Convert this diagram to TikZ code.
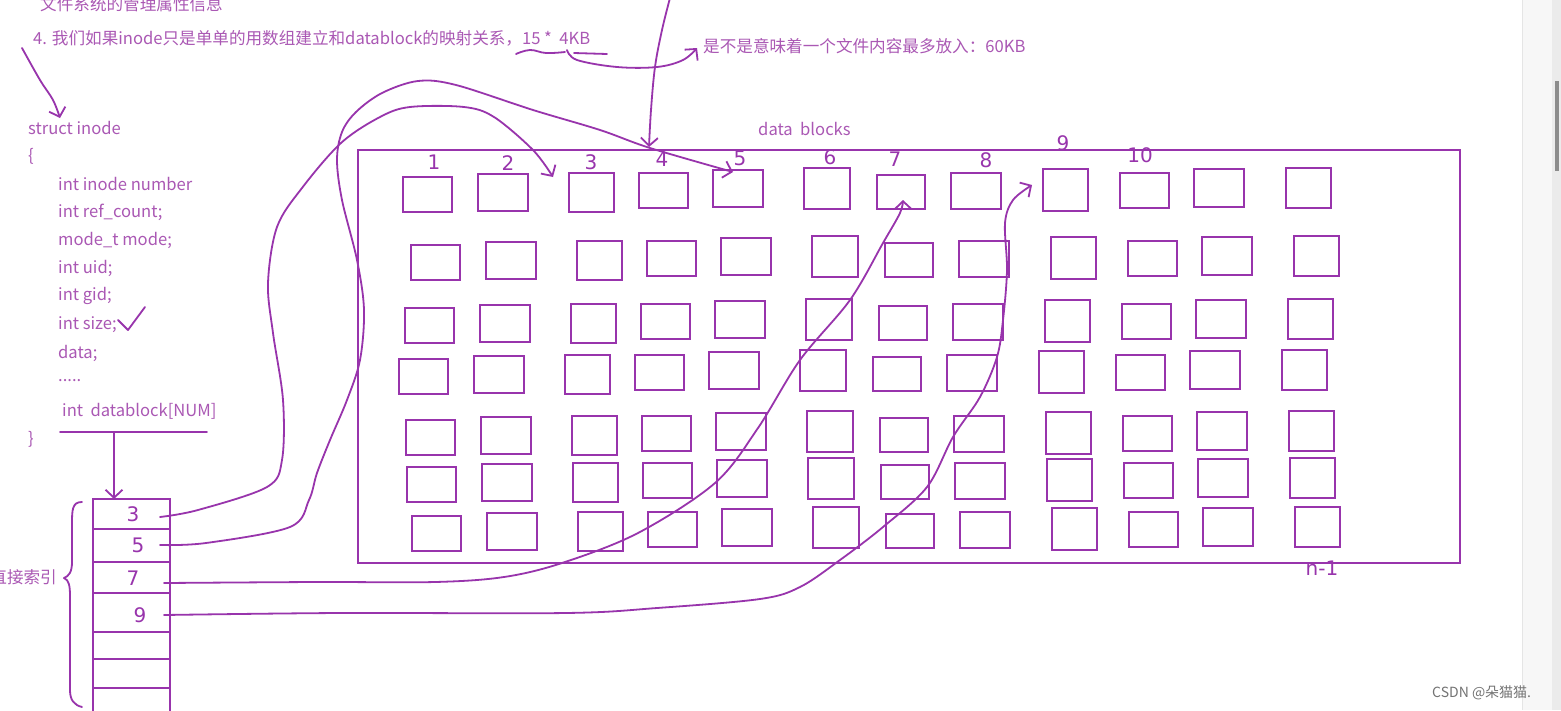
\documentclass[tikz,border=0pt]{standalone}
\usepackage{fontspec}
\setmainfont{Noto Sans CJK SC}
\newfontfamily\handfont{DejaVu Sans}
\usetikzlibrary{arrows.meta,calc}
\definecolor{txtc}{RGB}{170,88,180}
\definecolor{handc}{RGB}{152,52,172}
\tikzset{
  txt/.style={text=txtc, font=\fontsize{16.6}{18}\selectfont, inner sep=0pt, anchor=west},
  hand/.style={draw=handc, line width=1.8pt, line cap=round, line join=round},
  harrow/.style={hand, -{Straight Barb[length=8pt,width=17pt]}},
  blk/.style={draw=handc, line width=1.8pt, inner sep=0pt, outer sep=0pt},
  num/.style={text=handc, font=\handfont\fontsize{20}{22}\selectfont, inner sep=0pt},
  cell/.style={draw=handc, line width=1.8pt, minimum width=77pt, inner sep=0pt, outer sep=0pt},
}
\begin{document}
\begin{tikzpicture}[x=1pt,y=-1pt]
\useasboundingbox (0,0) rectangle (1561,710);
\clip (0,0) rectangle (1561,710);
\fill[white] (0,0) rectangle (1561,710);
% scrollbar
\fill[black!3] (1522,0) rectangle (1561,710);
\draw[black!10, line width=0.8pt] (1522,0) -- (1522,710);
\fill[black!8] (1552,0) rectangle (1561,710);
\fill[black!45] (1555,81) rectangle (1559,171);

% texts
\node[txt] (t0) at (40,4) {文件系统的管理属性信息};
\node[txt] (t1) at (33,38) {4. 我们如果inode只是单单的用数组建立和datablock的映射关系，15 *\ \ 4KB};
\node[txt] (t2) at (703,46) {是不是意味着一个文件内容最多放入：60KB};
\node[txt] (db) at (758,129) {data\ \ blocks};
\node[txt] (si) at (28,128) {struct inode};
\node[txt] (lb) at (28,156) {\{};
\node[txt] (f1) at (58,184) {int inode number};
\node[txt] (f2) at (58,212) {int ref\_count;};
\node[txt] (f3) at (58,240) {mode\_t mode;};
\node[txt] (f4) at (58,268) {int uid;};
\node[txt] (f5) at (58,296) {int gid;};
\node[txt] (f6) at (58,325) {int size;};
\node[txt] (f7) at (58,353) {data;};
\node[txt] (f8) at (58,381) {.....};
\node[txt] (f9) at (62,411) {int\ \ datablock[NUM]};
\node[txt] (rb) at (28,439) {\}};
\node[txt, anchor=east] (zj) at (57,577) {直接索引};
\node[anchor=west, inner sep=0pt, text=black!55, font=\fontsize{14}{16}\selectfont] (wm) at (1432,693) {CSDN @朵猫猫.};

% data blocks box
\node[blk, minimum width=1102, minimum height=413] (box) at (909,356.5) {};
\foreach \c/\x/\y/\w/\h in {1/403/177/49/35, 2/478/174/50/37, 3/569/173/45/39, 4/639/173/49/35,
  5/713/170/50/37, 6/804/168/46/41, 7/877/175/48/34, 8/951/173/50/36, 9/1043/169/45/42,
  10/1120/173/49/35, 11/1194/169/50/38, 12/1286/168/45/40}{
  \foreach \r/\dx/\dy in {1/0/0, 2/8/68, 3/2/131, 4/-4/182, 5/3/243, 6/4/290, 7/9/339}{
    \node[blk, minimum width=\w, minimum height=\h] (b\r-\c) at ({\x+\dx+\w/2},{\y+\dy+\h/2}) {};
  }
}
% handwritten block numbers
\node[num] (n1) at (434,162) {1};
\node[num] (n2) at (508,163) {2};
\node[num] (n3) at (591,162) {3};
\node[num] (n4) at (662,159) {4};
\node[num] (n5) at (740,158) {5};
\node[num] (n6) at (830,157) {6};
\node[num] (n7) at (895,159) {7};
\node[num] (n8) at (986,160) {8};
\node[num] (n9) at (1063,143) {9};
\node[num] (n10) at (1140,155) {10};
\node[num] (nn) at (1322,568) {n-1};

% inode array
\node[cell, minimum height=30] (c1) at (131.5,514) {};
\node[cell, minimum height=33] (c2) at (131.5,545.5) {};
\node[cell, minimum height=31] (c3) at (131.5,577.5) {};
\node[cell, minimum height=39] (c4) at (131.5,612.5) {};
\node[cell, minimum height=27] (c5) at (131.5,645.5) {};
\node[cell, minimum height=29] (c6) at (131.5,673.5) {};
\node[cell, minimum height=42] (c7) at (131.5,709) {};
\node[num] (v1) at (133,514) {3};
\node[num] (v2) at (138,545) {5};
\node[num] (v3) at (133,578) {7};
\node[num] (v4) at (140,615) {9};

% brace
\draw[hand] (82,502) .. controls (72,502) and (72,510) .. (72,525) -- (72,562)
  .. controls (72,572) and (69,576) .. (64,578) .. controls (69,580) and (70,586) .. (70,596)
  -- (70,690) .. controls (70,700) and (74,705) .. (82,707);

% underlines and ticks
\draw[hand] (60,432) -- (207,432);
\coordinate (u) at (114,432);
\draw[harrow] (u) -- (u |- c1.north);
\draw[hand] plot[smooth, tension=0.7] coordinates {(516,54) (530,50) (546,53) (565,52)};
\draw[hand] (574,53) -- (607,54);
\draw[hand] (118,320) -- (128,330) -- (145,307);

% left arrow to struct inode
\coordinate (la) at (22,48);
\coordinate (lt) at (60,118);
\draw[harrow] plot[smooth, tension=0.6] coordinates {(la) (40,80) (53,100) (lt)};

% 4KB -> explanation
\coordinate (k0) at (567,50);
\coordinate (k1) at (697,48);
\draw[harrow] plot[smooth, tension=0.6] coordinates {(k0) (577,60) (617,67) (657,67) (683,60) (k1)};

% vertical line from top to block 4
\coordinate (vt) at (670,-2);
\coordinate (v4e) at (649,147);
\draw[harrow] plot[smooth, tension=0.6] coordinates {(vt) (662,30) (655,67) (651,110) (v4e)};

% cell 1 -> block 3
\coordinate (s1) at (160,517);
\coordinate (e1) at (553,177);
\draw[harrow] plot[smooth, tension=0.55] coordinates {(s1) (198,510) (267,487) (282,460) (283,400)
  (273,333) (268,283) (277,227) (302,188) (341,143) (380,117) (410,107) (464,107) (494,117)
  (533,150) (e1)};

% cell 2 -> block 5
\coordinate (s2) at (160,545);
\coordinate (e2) at (733,172);
\draw[harrow] plot[smooth, tension=0.55] coordinates {(s2) (206,543) (290,527) (309,500) (317,473)
  (330,440) (347,400) (360,360) (364,310) (357,260) (342,200) (337,160) (342,132) (356,112)
  (382,93) (418,81) (456,85) (533,110) (600,130) (650,148) (e2)};

% cell 3 -> block 7
\coordinate (s3) at (164,583);
\coordinate (e3) at (903,200);
\draw[harrow] plot[smooth, tension=0.55] coordinates {(s3) (317,582) (435,582) (504,577) (562,563)
  (638,533) (715,483) (758,428) (800,360) (850,300) (883,243) (900,213) (e3)};

% cell 4 -> block 9
\coordinate (s4) at (164,615);
\coordinate (e4) at (1032,185);
\draw[harrow] plot[smooth, tension=0.55] coordinates {(s4) (340,613) (566,613) (657,608) (760,599)
  (800,587) (840,560) (883,527) (927,487) (953,437) (980,397) (997,357) (1003,320) (1007,270)
  (1005,223) (1013,200) (e4)};
\end{tikzpicture}
\end{document}
